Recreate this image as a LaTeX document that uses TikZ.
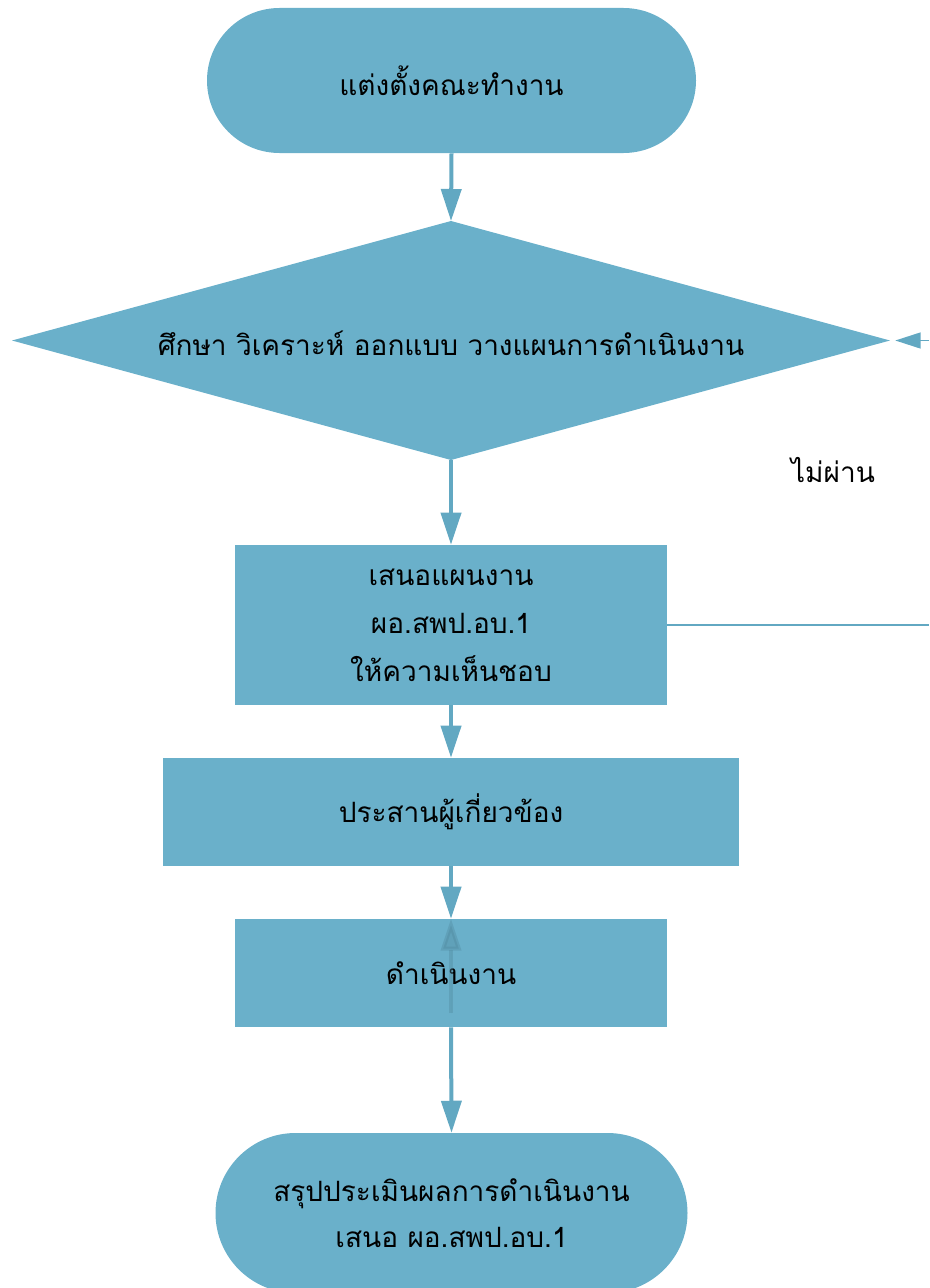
\documentclass[tikz,border=0pt]{standalone}
\usepackage{fontspec}
\newfontfamily\thaifont[Script=Thai]{Loma}
\usetikzlibrary{shapes.misc,arrows.meta}
\definecolor{boxfill}{HTML}{6AB0CA}
\definecolor{arrowc}{HTML}{62A8C2}
\tikzset{
  every node/.style={font=\thaifont\fontsize{21pt}{36pt}\selectfont, text=black},
  term/.style={rounded rectangle, fill=boxfill, draw=none, inner sep=0pt, align=center},
  proc/.style={rectangle, fill=boxfill, draw=none, inner sep=0pt, align=center},
  flow/.style={draw=arrowc, line width=3pt, -{Triangle[length=24pt,width=15pt]}},
  back/.style={draw=arrowc, line width=1.1pt},
  backarr/.style={draw=arrowc, line width=1.1pt, -{Triangle[length=19pt,width=12pt]}},
}
\begin{document}
\begin{tikzpicture}[x=0.75pt,y=-0.75pt]
\useasboundingbox (0,0) rectangle (929,1288);
\clip (0,0) rectangle (929,1288);
\node[term, minimum width=366.75pt, minimum height=108.75pt] (top) at (451.5,80.5) {แต่งตั้งคณะทำงาน};
% decision diamond
\coordinate (diaN) at (451,221);
\coordinate (diaS) at (451,460);
\coordinate (diaW) at (12,340.5);
\coordinate (diaE) at (890,340.5);
\fill[boxfill] (diaN) -- (diaE) -- (diaS) -- (diaW) -- cycle;
\node (dia) at (451,343) {ศึกษา วิเคราะห์ ออกแบบ วางแผนการดำเนินงาน};
\node[proc, minimum width=324pt, minimum height=120pt] (b1) at (451,625) {เสนอแผนงาน\\ ผอ.สพป.อบ.1\\ให้ความเห็นชอบ};
\node[proc, minimum width=432pt, minimum height=81pt] (b2) at (451,812) {ประสานผู้เกี่ยวข้อง};
\node[proc, minimum width=324pt, minimum height=81pt] (b3) at (451,973) {ดำเนินงาน};
\node[term, minimum width=354pt, minimum height=120pt, font=\thaifont\fontsize{21pt}{34pt}\selectfont] (bot) at (451.5,1213) {สรุปประเมินผลการดำเนินงาน\\เสนอ ผอ.สพป.อบ.1};
\node (lbl) at (833,470) {ไม่ผ่าน};
\coordinate (fb1) at (929,625);
\coordinate (fb2) at (929,340.5);
\coordinate (up) at (451,1013);
\draw[flow] (top.south) -- (diaN);
\draw[flow] (diaS) -- (b1.north);
\draw[flow] (b1.south) -- (b2.north);
\draw[flow] (b2.south) -- (b3.north);
\draw[flow] (b3.south) -- (bot.north);
\draw[flow, draw=arrowc!80!black, fill=arrowc!80!black, opacity=0.35] (up) -- (b3.north);
\draw[back] (b1.east) -- (fb1);
\draw[backarr, shorten >=4pt] (fb2) -- (diaE);
\end{tikzpicture}
\end{document}
